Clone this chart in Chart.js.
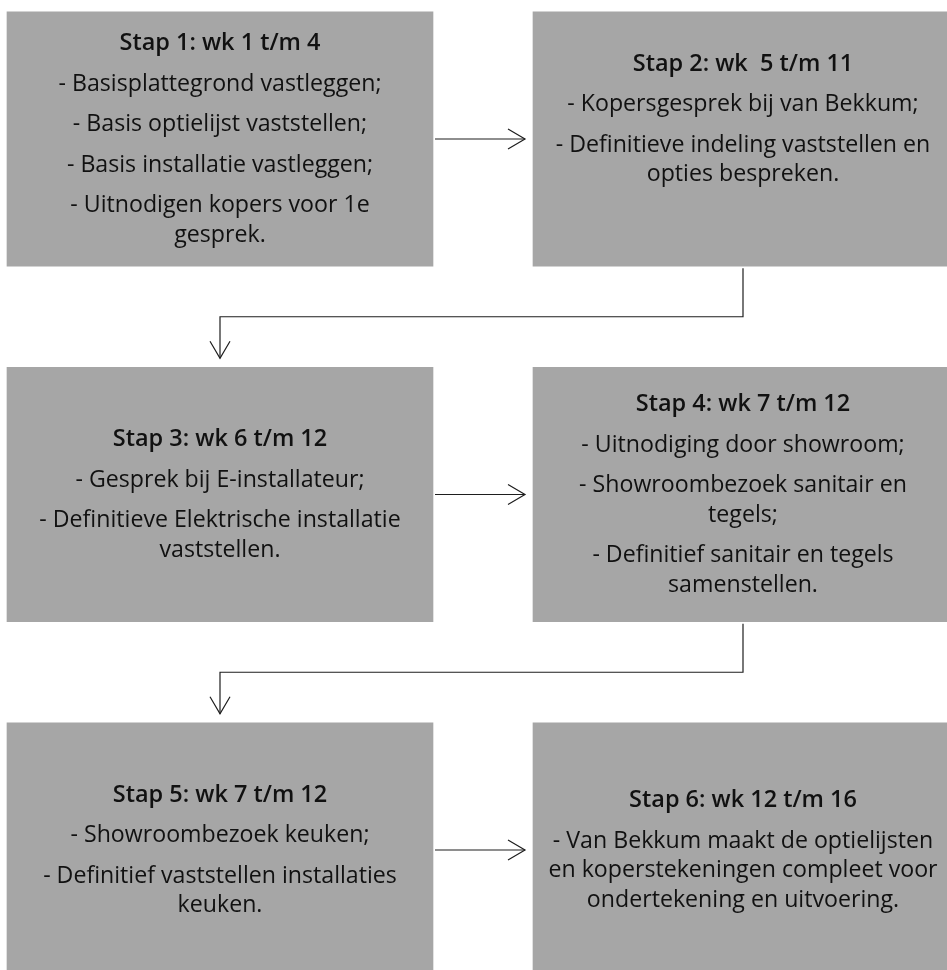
<!DOCTYPE html>
<html>
<head>
<meta charset="utf-8">
<script src="https://cdn.jsdelivr.net/npm/chart.js@4.4.1/dist/chart.umd.min.js"></script>
<style>
  html, body { margin: 0; padding: 0; background: #ffffff; }
  #flow { display: block; }
</style>
</head>
<body>
<canvas id="flow" width="947" height="970"></canvas>
<script>
// Step titles and the text in each box (paragraphs, wrapped as in the picture)
const stepTitles = [
    'Stap 1: wk 1 t/m 4',
    'Stap 2: wk  5 t/m 11',
    'Stap 3: wk 6 t/m 12',
    'Stap 4: wk 7 t/m 12',
    'Stap 5: wk 7 t/m 12',
    'Stap 6: wk 12 t/m 16'
];
const stepTexts = [
    [['- Basisplattegrond vastleggen;'], ['- Basis optielijst vaststellen;'], ['- Basis installatie vastleggen;'], ['- Uitnodigen kopers voor 1e', 'gesprek.']],
    [['- Kopersgesprek bij van Bekkum;'], ['- Definitieve indeling vaststellen en', 'opties bespreken.'], ['']],
    [['- Gesprek bij E-installateur;'], ['- Definitieve Elektrische installatie', 'vaststellen.']],
    [['- Uitnodiging door showroom;'], ['- Showroombezoek sanitair en', 'tegels;'], ['- Definitief sanitair en tegels', 'samenstellen.']],
    [['- Showroombezoek keuken;'], ['- Definitief vaststellen installaties', 'keuken.']],
    [['- Van Bekkum maakt de optielijsten', 'en koperstekeningen compleet voor', 'ondertekening en uitvoering.']]
];

// Layout grid (value units of the hidden axes = pixels of the page)
const columnSpans = [[7, 433], [533, 953]];
const rowCenters = [139, 494.5, 850];
const boxHeight = 254.5;

const BOX_COLOR = '#a6a6a6';
const LINE_COLOR = '#1e1e1e';
const FONT_FAMILY = '"Open Sans", "Liberation Sans", sans-serif';
const FONT_SIZE = 23;

// boxes: step i sits in row floor(i/2), column i%2
const boxes = stepTitles.map((t, i) => ({
    x: columnSpans[i % 2],
    y: rowCenters[Math.floor(i / 2)]
}));

// arrows between the boxes, derived from the grid
function arrowHead(tip, dir) {
    const back = 17, half = 10;
    if (dir === 'right') return [{x: tip.x - back, y: tip.y - half}, tip, {x: tip.x - back, y: tip.y + half}];
    return [{x: tip.x - half, y: tip.y - back}, tip, {x: tip.x + half, y: tip.y - back}];
}

const arrowLines = [];
rowCenters.forEach((cy, r) => {
    const from = columnSpans[0][1] + 2;
    const tip = {x: columnSpans[1][0] - 8, y: cy};
    arrowLines.push([{x: from, y: cy}, tip]);
    arrowLines.push(arrowHead(tip, 'right'));
    if (r < rowCenters.length - 1) {
        const rightMid = (columnSpans[1][0] + columnSpans[1][1]) / 2;
        const leftMid = (columnSpans[0][0] + columnSpans[0][1]) / 2;
        const bottom = cy + boxHeight / 2;
        const nextTop = rowCenters[r + 1] - boxHeight / 2;
        const midY = (bottom + nextTop) / 2;
        const down = {x: leftMid, y: nextTop - 9};
        arrowLines.push([{x: rightMid, y: bottom + 2}, {x: rightMid, y: midY}, {x: leftMid, y: midY}, down]);
        arrowLines.push(arrowHead(down, 'down'));
    }
});

const lineDatasets = arrowLines.map(pts => ({
    type: 'line',
    data: pts,
    borderColor: LINE_COLOR,
    borderWidth: 1.2,
    pointRadius: 0,
    fill: false,
    tension: 0,
    order: 0
}));

// text inside the boxes
const boxTextPlugin = {
    id: 'boxText',
    afterDatasetsDraw(chart) {
        const ctx = chart.ctx;
        const xs = chart.scales.x, ys = chart.scales.y;
        const paraGap = 40.5, wrapGap = 29.5;
        const reg = FONT_SIZE + 'px ' + FONT_FAMILY;
        const bold = '600 ' + FONT_SIZE + 'px ' + FONT_FAMILY;

        // squeeze the fallback font to the narrow width of the original face
        ctx.save();
        ctx.font = reg;
        const regScale = 323 / ctx.measureText('- Basisplattegrond vastleggen;').width;
        ctx.font = bold;
        const boldScale = 201 / ctx.measureText('Stap 1: wk 1 t/m 4').width;
        ctx.restore();

        boxes.forEach((b, i) => {
            const lines = [{text: stepTitles[i], bold: true, off: 0}];
            let off = 0;
            stepTexts[i].forEach(par => {
                par.forEach((ln, k) => {
                    off += (k === 0 ? paraGap : wrapGap);
                    lines.push({text: ln, bold: false, off: off});
                });
            });
            const cx = xs.getPixelForValue((b.x[0] + b.x[1]) / 2);
            const start = ys.getPixelForValue(b.y) + 7 - off / 2;

            ctx.save();
            ctx.fillStyle = '#111111';
            ctx.textAlign = 'center';
            ctx.textBaseline = 'alphabetic';
            lines.forEach(l => {
                if (!l.text) return;
                ctx.save();
                ctx.font = l.bold ? bold : reg;
                ctx.translate(cx, start + l.off);
                ctx.scale(l.bold ? boldScale : regScale, 1);
                ctx.fillText(l.text, 0, 0);
                ctx.restore();
            });
            ctx.restore();
        });
    }
};

new Chart(document.getElementById('flow'), {
    type: 'bar',
    data: {
        datasets: [
            {
                type: 'bar',
                indexAxis: 'y',
                data: boxes,
                backgroundColor: BOX_COLOR,
                borderWidth: 0,
                barThickness: boxHeight,
                order: 1
            },
            ...lineDatasets
        ]
    },
    options: {
        responsive: false,
        animation: false,
        events: [],
        layout: { padding: 0 },
        plugins: {
            legend: { display: false },
            tooltip: { enabled: false }
        },
        scales: {
            x: { type: 'linear', min: 0, max: 947, display: false, offset: false },
            y: { type: 'linear', min: 0, max: 970, reverse: true, display: false, offset: false }
        }
    },
    plugins: [boxTextPlugin]
});
</script>
</body>
</html>
